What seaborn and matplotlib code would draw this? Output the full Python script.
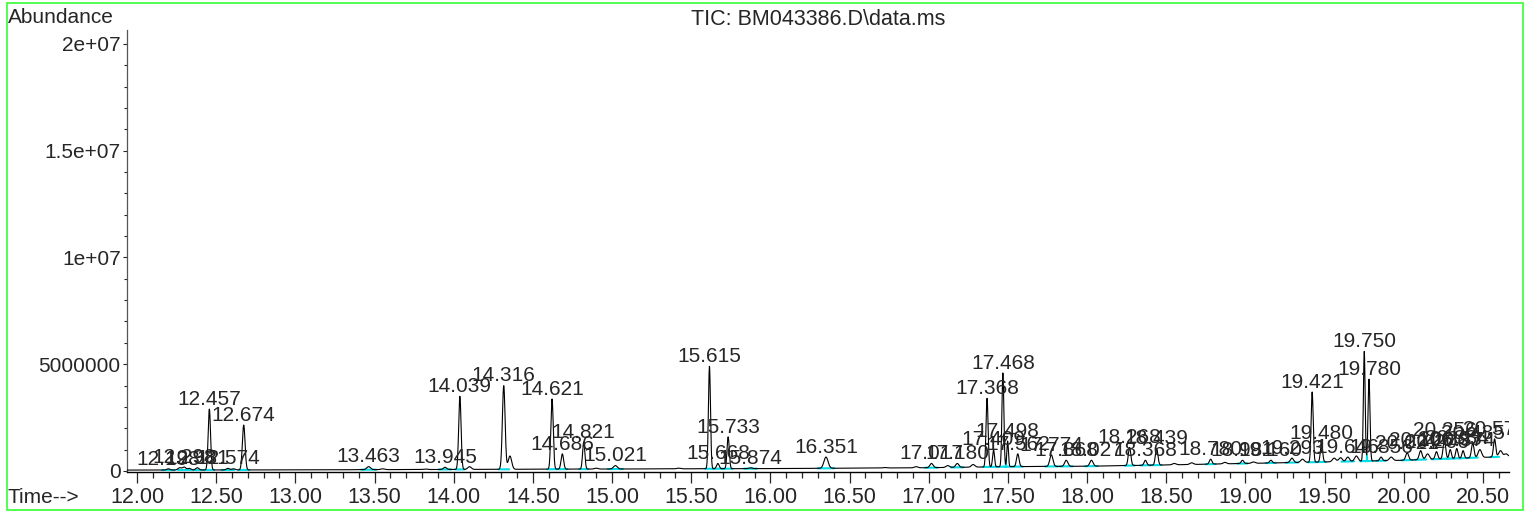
import numpy as np
import pandas as pd
import matplotlib.pyplot as plt
from matplotlib.patches import Rectangle
import seaborn as sns

# labelled peaks: retention time (min), apex abundance (x 1e6), peak width sigma (min)
peak_times = [12.198, 12.298, 12.381, 12.457, 12.574, 12.674, 13.463, 13.945, 14.039,
              14.316, 14.621, 14.686, 14.821, 15.021, 15.615, 15.668, 15.733, 15.874,
              16.351, 17.017, 17.180, 17.368, 17.409, 17.468, 17.498, 17.562, 17.774,
              17.868, 18.027, 18.268, 18.368, 18.439, 18.780, 18.981, 19.160, 19.293,
              19.421, 19.480, 19.646, 19.750, 19.780, 19.856, 20.021, 20.106, 20.206,
              20.256, 20.293, 20.334, 20.374, 20.435, 20.573]
peak_heights = [0.10, 0.18, 0.15, 2.90, 0.12, 2.15, 0.20, 0.17, 3.50,
                4.00, 3.37, 0.80, 1.36, 0.25, 4.90, 0.35, 1.60, 0.15,
                0.65, 0.35, 0.35, 3.40, 1.00, 4.60, 1.40, 0.80, 0.75,
                0.50, 0.50, 1.10, 0.50, 1.05, 0.55, 0.50, 0.50, 0.60,
                3.70, 1.30, 0.65, 5.60, 4.30, 0.65, 0.85, 0.95, 0.90,
                1.45, 1.00, 1.05, 0.95, 1.30, 1.50]
peak_widths = [0.010, 0.010, 0.010, 0.0075, 0.010, 0.0085, 0.012, 0.010, 0.0075,
               0.0085, 0.0075, 0.008, 0.007, 0.012, 0.0065, 0.008, 0.007, 0.010,
               0.013, 0.010, 0.010, 0.0065, 0.006, 0.006, 0.005, 0.008, 0.010,
               0.010, 0.010, 0.008, 0.008, 0.008, 0.008, 0.008, 0.008, 0.010,
               0.0065, 0.007, 0.010, 0.0055, 0.006, 0.008, 0.009, 0.009, 0.008,
               0.008, 0.007, 0.007, 0.007, 0.008, 0.007]

# unlabelled small bumps on the trace
bump_times = [12.27, 12.33, 12.61, 13.55, 13.82, 14.10, 14.355, 14.90, 15.42, 16.72,
              16.92, 17.12, 17.28, 18.55, 18.66, 18.87, 19.05, 19.36, 19.56, 19.60,
              19.70, 19.92, 20.15, 20.48, 20.61, 20.645]
bump_heights = [0.15, 0.12, 0.10, 0.10, 0.09, 0.20, 0.70, 0.13, 0.13, 0.16,
                0.20, 0.25, 0.30, 0.35, 0.38, 0.40, 0.42, 0.55, 0.60, 0.62,
                0.70, 0.65, 0.80, 1.00, 0.95, 0.80]

# baseline
base_t = [11.94, 13.0, 14.0, 15.0, 16.0, 17.0, 17.5, 18.0, 18.5, 19.0, 19.5, 20.0, 20.67]
base_y = [0.04, 0.05, 0.07, 0.09, 0.11, 0.15, 0.20, 0.22, 0.28, 0.35, 0.42, 0.50, 0.68]

# drop lines of the integrator
drop_times = [17.39, 17.49, 19.765]

x_ticks = [12.0 + 0.5 * i for i in range(18)]
x_tick_labels = ['%.2f' % v for v in x_ticks]
y_ticks = [0, 5e6, 1e7, 1.5e7, 2e7]
y_tick_labels = ['0', '5000000', '1e+07', '1.5e+07', '2e+07']

t = np.linspace(11.937, 20.664, 8000)
base = np.interp(t, base_t, base_y)
signal = base.copy()
for pt, ph, pw in zip(peak_times, peak_heights, peak_widths):
    amp = ph - np.interp(pt, base_t, base_y)
    signal += amp * np.exp(-0.5 * ((t - pt) / pw) ** 2)
for bt, bh in zip(bump_times, bump_heights):
    amp = bh - np.interp(bt, base_t, base_y)
    signal += amp * np.exp(-0.5 * ((t - bt) / 0.011) ** 2)

df = pd.DataFrame({'time': t, 'abundance': signal * 1e6})

sns.set_style('ticks')
plt.rcParams['font.family'] = ['Liberation Sans', 'DejaVu Sans']

fig = plt.figure(figsize=(15.26, 5.12), dpi=100)
ax = fig.add_axes([127 / 1526, 40 / 512, 1382 / 1526, 442 / 512])

# integration baselines
for pt, pw in zip(peak_times, peak_widths):
    half = max(4 * pw, 0.025)
    ax.plot([pt - half, pt + half],
            [np.interp(pt - half, base_t, base_y) * 1e6, np.interp(pt + half, base_t, base_y) * 1e6],
            color='#00dcea', lw=1.5, zorder=2)
for dt in drop_times:
    ax.plot([dt, dt], [np.interp(dt, base_t, base_y) * 1e6, np.interp(dt, t, signal) * 1e6],
            color='#00dcea', lw=1.5, zorder=2)

sns.lineplot(data=df, x='time', y='abundance', ax=ax, color='black', lw=0.8,
             estimator=None, zorder=3)

for pt, ph in zip(peak_times, peak_heights):
    ax.annotate('%.3f' % pt, (pt, ph * 1e6), xytext=(0, 3), textcoords='offset points',
                ha='center', va='baseline', fontsize=15, clip_on=True, zorder=4)

ax.set_xlim(11.937, 20.664)
ax.set_ylim(-0.05e6, 20.65e6)
ax.set_xticks(x_ticks)
ax.set_xticklabels(x_tick_labels)
ax.set_xticks(np.arange(12.0, 20.65, 0.1), minor=True)
ax.set_yticks(y_ticks)
ax.set_yticklabels(y_tick_labels)
ax.set_yticks(np.arange(0, 20.5e6, 1e6), minor=True)
ax.tick_params(axis='x', which='major', length=8, width=0.9, pad=3, labelsize=15.5, direction='out')
ax.tick_params(axis='x', which='minor', length=4.5, width=0.9, direction='out')
ax.tick_params(axis='y', which='major', length=3, width=0.8, pad=1.5, labelsize=15, direction='out')
ax.tick_params(axis='y', which='minor', length=2, width=0.8, direction='out')
ax.set_xlabel('')
ax.set_ylabel('')
sns.despine(ax=ax)
ax.spines['left'].set_color('#555555')
ax.spines['left'].set_linewidth(0.9)
ax.spines['bottom'].set_color('black')
ax.spines['bottom'].set_linewidth(1.0)

fig.text(8 / 1526, 1 - 23 / 512, 'Abundance', fontsize=15, ha='left', va='baseline')
fig.text(818 / 1526, 1 - 25 / 512, 'TIC: BM043386.D\\data.ms', fontsize=15.5, ha='center', va='baseline')
fig.text(8 / 1526, 1 - 503 / 512, 'Time-->', fontsize=15, ha='left', va='baseline')

fig.patches.append(Rectangle((7 / 1526, 2 / 512), 1516 / 1526, 507 / 512, transform=fig.transFigure,
                             fill=False, edgecolor='#33ff33', lw=1.2))

fig.savefig('out.png', dpi=100)
